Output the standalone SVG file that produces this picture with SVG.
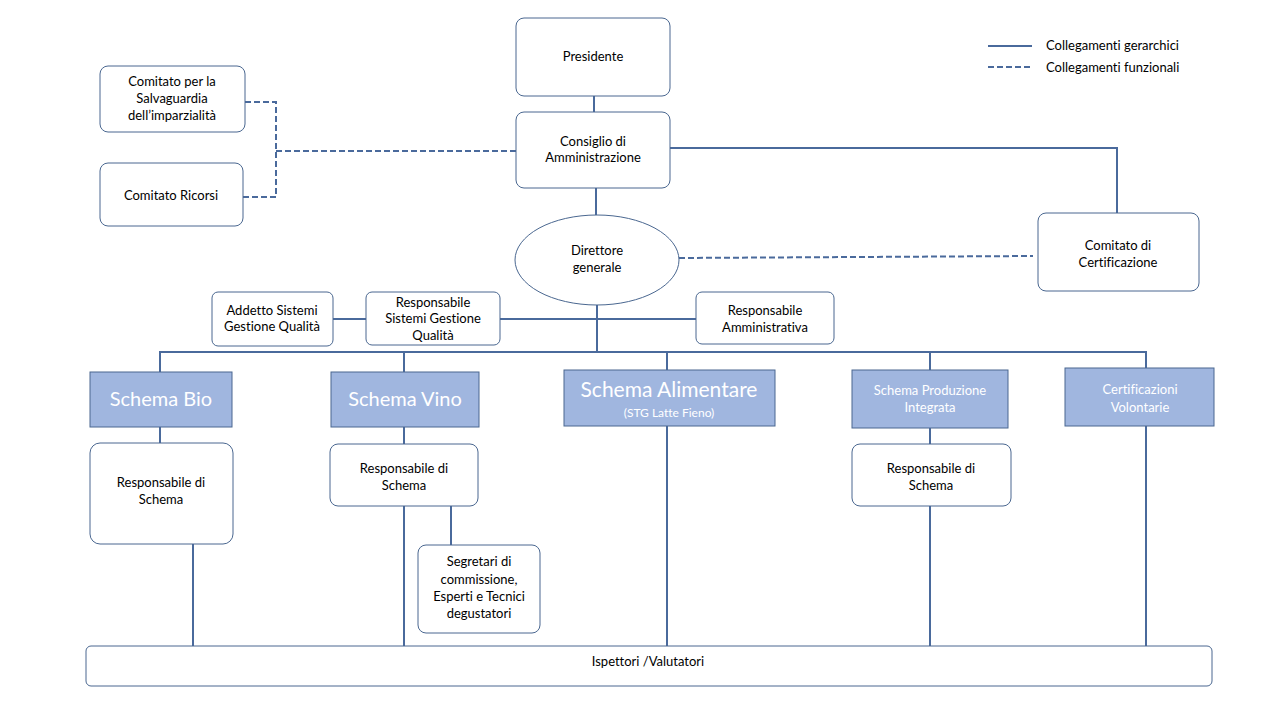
<svg xmlns="http://www.w3.org/2000/svg" width="1280" height="720" viewBox="0 0 1280 720">
<style>
.box{fill:#ffffff;stroke:#4a6790;stroke-width:1}
.sch{fill:#a0b6df;stroke:#4a6790;stroke-width:1}
.ln{fill:none;stroke:#4a6a9c;stroke-width:2}
.dl{fill:none;stroke:#4a6a9c;stroke-width:2;stroke-dasharray:6 3}
text{font-family:Lato,"Open Sans","Liberation Sans",sans-serif;font-size:13px;fill:#000;text-anchor:middle;font-variant-ligatures:none;font-feature-settings:"liga" 0}
.w{fill:#ffffff}
.lg{text-anchor:start}
</style>
<rect width="1280" height="720" fill="#ffffff"/>
<g id="connectors">
<line class="ln" x1="594" y1="96" x2="594" y2="112"/>
<polyline class="dl" points="245,102 276,102 276,197 243,197"/>
<line class="dl" x1="276" y1="151" x2="516" y2="151"/>
<polyline class="ln" points="670,148 1117,148 1117,213"/>
<line class="ln" x1="596" y1="188" x2="596" y2="215"/>
<line class="dl" x1="679" y1="258" x2="1033" y2="256"/>
<line class="ln" x1="597" y1="305" x2="597" y2="352"/>
<line class="ln" x1="333" y1="319" x2="366" y2="319"/>
<line class="ln" x1="500" y1="319" x2="696" y2="319"/>
<line class="ln" x1="159" y1="352" x2="1147" y2="352"/>
<line class="ln" x1="160" y1="352" x2="160" y2="372"/>
<line class="ln" x1="404" y1="352" x2="404" y2="372"/>
<line class="ln" x1="667" y1="352" x2="667" y2="370"/>
<line class="ln" x1="930" y1="352" x2="930" y2="370"/>
<line class="ln" x1="1146" y1="352" x2="1146" y2="368"/>
<line class="ln" x1="160" y1="427" x2="160" y2="443"/>
<line class="ln" x1="404" y1="427" x2="404" y2="444"/>
<line class="ln" x1="930" y1="428" x2="930" y2="444"/>
<line class="ln" x1="667" y1="426" x2="667" y2="646"/>
<line class="ln" x1="1146" y1="426" x2="1146" y2="646"/>
<line class="ln" x1="193" y1="544" x2="193" y2="646"/>
<line class="ln" x1="404" y1="506" x2="404" y2="646"/>
<line class="ln" x1="451" y1="506" x2="451" y2="545"/>
<line class="ln" x1="930" y1="506" x2="930" y2="646"/>
</g>
<g id="legend">
<line class="ln" x1="988" y1="46" x2="1032" y2="46"/>
<line class="dl" x1="988" y1="67" x2="1032" y2="67"/>
<text class="lg" x="1046" y="50">Collegamenti gerarchici</text>
<text class="lg" x="1046" y="72">Collegamenti funzionali</text>
</g>
<g id="presidente">
<rect class="box" x="516" y="18" width="154" height="78" rx="8"/>
<text x="593" y="61">Presidente</text>
</g>
<g id="consiglio">
<rect class="box" x="516" y="112" width="154" height="76" rx="8"/>
<text x="593" y="146">Consiglio di</text>
<text x="593" y="162">Amministrazione</text>
</g>
<g id="comitato-salvaguardia">
<rect class="box" x="100" y="66" width="145" height="66" rx="8"/>
<text x="172" y="86">Comitato per la</text>
<text x="172" y="103">Salvaguardia</text>
<text x="172" y="120">dell’imparzialità</text>
</g>
<g id="comitato-ricorsi">
<rect class="box" x="100" y="163" width="143" height="63" rx="8"/>
<text x="171" y="200">Comitato Ricorsi</text>
</g>
<g id="comitato-certificazione">
<rect class="box" x="1038" y="213" width="161" height="78" rx="8"/>
<text x="1118" y="250">Comitato di</text>
<text x="1118" y="267">Certificazione</text>
</g>
<g id="direttore">
<ellipse class="box" cx="597" cy="260" rx="82" ry="45"/>
<text x="597" y="255">Direttore</text>
<text x="597" y="272">generale</text>
</g>
<g id="addetto-sgq">
<rect class="box" x="212" y="292" width="121" height="54" rx="6"/>
<text x="272" y="315">Addetto Sistemi</text>
<text x="272" y="331">Gestione Qualità</text>
</g>
<g id="responsabile-sgq">
<rect class="box" x="366" y="292" width="134" height="53" rx="6"/>
<text x="433" y="307">Responsabile</text>
<text x="433" y="323">Sistemi Gestione</text>
<text x="433" y="340">Qualità</text>
</g>
<g id="responsabile-amministrativa">
<rect class="box" x="696" y="292" width="138" height="52" rx="6"/>
<text x="765" y="315">Responsabile</text>
<text x="765" y="332">Amministrativa</text>
</g>
<g id="schema-bio">
<rect class="sch" x="90" y="372" width="142" height="55"/>
<text class="w" x="161" y="406" style="font-size:20px">Schema Bio</text>
</g>
<g id="schema-vino">
<rect class="sch" x="331" y="372" width="148" height="55"/>
<text class="w" x="405" y="406" style="font-size:20px">Schema Vino</text>
</g>
<g id="schema-alimentare">
<rect class="sch" x="564" y="370" width="211" height="56"/>
<text class="w" x="669" y="397" style="font-size:21px">Schema Alimentare</text>
<text class="w" x="669" y="417" style="font-size:12px">(STG Latte Fieno)</text>
</g>
<g id="schema-produzione">
<rect class="sch" x="852" y="370" width="156" height="58"/>
<text class="w" x="930" y="395">Schema Produzione</text>
<text class="w" x="930" y="412">Integrata</text>
</g>
<g id="certificazioni-volontarie">
<rect class="sch" x="1065" y="368" width="149" height="58"/>
<text class="w" x="1140" y="394">Certificazioni</text>
<text class="w" x="1140" y="412">Volontarie</text>
</g>
<g id="resp-bio">
<rect class="box" x="90" y="443" width="143" height="101" rx="10"/>
<text x="161" y="487">Responsabile di</text>
<text x="161" y="504">Schema</text>
</g>
<g id="resp-vino">
<rect class="box" x="330" y="444" width="148" height="62" rx="8"/>
<text x="404" y="473">Responsabile di</text>
<text x="404" y="490">Schema</text>
</g>
<g id="segretari">
<rect class="box" x="418" y="545" width="122" height="88" rx="8"/>
<text x="479" y="566">Segretari di</text>
<text x="479" y="584">commissione,</text>
<text x="479" y="601">Esperti e Tecnici</text>
<text x="479" y="618">degustatori</text>
</g>
<g id="resp-produzione">
<rect class="box" x="852" y="444" width="159" height="62" rx="8"/>
<text x="931" y="473">Responsabile di</text>
<text x="931" y="490">Schema</text>
</g>
<g id="ispettori">
<rect class="box" x="86" y="646" width="1126" height="40" rx="5"/>
<text x="648" y="666">Ispettori /Valutatori</text>
</g>
</svg>
